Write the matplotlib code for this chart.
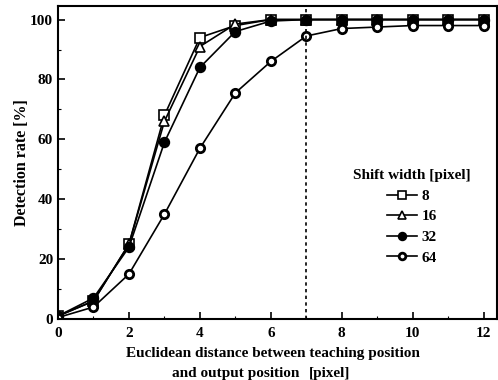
import numpy as np
import matplotlib
matplotlib.use("Agg")
import matplotlib.pyplot as plt
from matplotlib.ticker import MultipleLocator

plt.rcParams['font.family'] = ['Liberation Serif', 'DejaVu Serif']
plt.rcParams['font.weight'] = 'bold'

distance = [0, 1, 2, 3, 4, 5, 6, 7, 8, 9, 10, 11, 12]
rate_8 = [1, 6, 25, 68, 94, 98, 100, 100, 100, 100, 100, 100, 100]
rate_16 = [1, 6, 25, 66, 91, 98.5, 100, 100, 100, 100, 100, 100, 100]
rate_32 = [1, 7, 24, 59, 84, 96, 99.5, 100, 100, 100, 100, 100, 100]
rate_64 = [0.5, 4, 15, 35, 57, 75.5, 86, 94.5, 97, 97.5, 98, 98, 98]
threshold = 7

fig = plt.figure(figsize=(4.98, 3.80), dpi=100)
ax = fig.add_axes([0.1165, 0.1605, 0.881, 0.8235])

ax.plot(distance, rate_8, '-s', color='k', mfc='white', mec='k', ms=7, mew=1.2, lw=1.2, label='8')
ax.plot(distance, rate_16, '-^', color='k', mfc='white', mec='k', ms=7, mew=1.2, lw=1.2, label='16')
ax.plot(distance, rate_32, '-o', color='k', mfc='k', mec='k', ms=7, mew=1.2, lw=1.2, label='32')
ax.plot(distance, rate_64, '-o', color='k', mfc='white', mec='k', ms=6, mew=2, lw=1.2, label='64')
ax.axvline(threshold, color='k', ls=(0, (2, 2)), lw=1.2)

ax.set_xlim(0, 12.37)
ax.set_ylim(0, 104.5)
ax.xaxis.set_major_locator(MultipleLocator(2))
ax.xaxis.set_minor_locator(MultipleLocator(1))
ax.yaxis.set_major_locator(MultipleLocator(20))
ax.yaxis.set_minor_locator(MultipleLocator(10))
ax.tick_params(which='both', direction='in', labelsize=11)
ax.tick_params(which='major', length=5, width=1.2)
ax.tick_params(axis='x', pad=6)
ax.tick_params(which='minor', length=2.5, width=0.8)
for s in ax.spines.values():
    s.set_linewidth(1.5)
for lab in ax.get_xticklabels() + ax.get_yticklabels():
    lab.set_fontweight('bold')

ax.set_ylabel('Detection rate [%]', fontsize=11.5, fontweight='bold', labelpad=0)
# two-line x label, second line is not centred in the original
fig.text(272.5 / 498, 1 - 353 / 380, 'Euclidean distance between teaching position',
         ha='center', va='center', fontsize=11, fontweight='bold')
fig.text(172 / 498, 1 - 373 / 380, 'and output position',
         ha='left', va='center', fontsize=11, fontweight='bold')
fig.text(350 / 498, 1 - 373 / 380, '[pixel]',
         ha='right', va='center', fontsize=11, fontweight='bold')

leg = ax.legend(title='Shift width [pixel]', loc='lower right', bbox_to_anchor=(0.972, 0.13),
                frameon=False, fontsize=11, title_fontsize=11, handlelength=2.0,
                handletextpad=0.3, labelspacing=0.45, markerscale=0.8)
leg.get_title().set_fontweight('bold')

fig.savefig('out.png', dpi=100)
